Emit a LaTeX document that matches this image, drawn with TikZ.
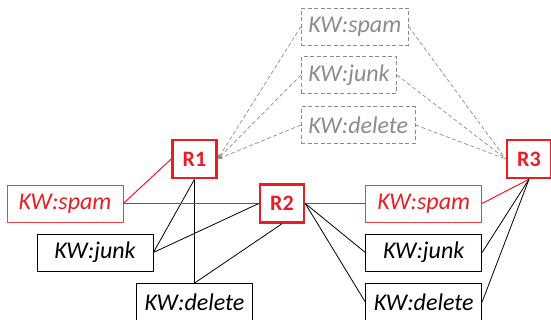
\documentclass[tikz,border=0pt]{standalone}
\usepackage{fontspec}
\setmainfont{Carlito}
\usetikzlibrary{arrows.meta}

\definecolor{rulered}{RGB}{237,28,36}
\definecolor{kwgray}{RGB}{140,140,140}

\begin{document}
\begin{tikzpicture}[x=1pt, y=-1pt,
    kw/.style={draw, line width=0.8pt, inner xsep=7pt, minimum height=37pt,
      font=\fontsize{24}{24}\selectfont\itshape},
    kwbox/.style={kw, minimum width=116pt},
    rule/.style={draw=rulered, line width=2.5pt, minimum width=44pt, minimum height=38pt,
      text=rulered, font=\fontsize{22}{22}\selectfont\bfseries},
    link/.style={line width=0.8pt},
    redlink/.style={line width=1pt, rulered},
    glink/.style={line width=0.7pt, kwgray, dash pattern=on 4pt off 2.5pt}]
    \useasboundingbox (0,0) rectangle (551,320);

    % rules
    \node[rule] (R1) at (194.5,159) {R1};
    \node[rule] (R2) at (282,203.5) {R2};
    \node[rule] (R3) at (529,159) {R3};

    % unused keywords (top)
    \node[kw, draw=kwgray, text=kwgray, dash pattern=on 4pt off 2.5pt, anchor=west] (gspam) at (301,26.5) {KW:spam};
    \node[kw, draw=kwgray, text=kwgray, dash pattern=on 4pt off 2.5pt, anchor=west] (gjunk) at (301,75) {KW:junk};
    \node[kw, draw=kwgray, text=kwgray, dash pattern=on 4pt off 2.5pt, anchor=west] (gdelete) at (301,125) {KW:delete};

    % left keywords
    \node[kwbox, draw=rulered!85, text=rulered] (lspam) at (65,203.5) {KW:spam};
    \node[kwbox] (ljunk) at (95,252.5) {KW:junk};
    \node[kwbox] (ldelete) at (194.5,302) {KW:delete};

    % right keywords
    \node[kwbox, draw=rulered!85, text=rulered] (rspam) at (423.7,203.5) {KW:spam};
    \node[kwbox] (rjunk) at (423.7,252.5) {KW:junk};
    \node[kwbox] (rdelete) at (423.7,302) {KW:delete};

    % R1
    \draw[redlink] (R1.west) -- (lspam.east);
    \draw[link] (R1.south) -- (ljunk.east);
    \draw[link] (R1.south) -- (ldelete.north);
    % R2
    \draw[redlink] (lspam.east) -- (R2.west);
    \draw[link] (R2.west) -- (ljunk.east);
    \draw[link] (R2.south) -- (ldelete.north);
    \draw[redlink] (R2.east) -- (rspam.west);
    \draw[link] (R2.east) -- (rjunk.west);
    \draw[link] (R2.east) -- (rdelete.west);
    % R3
    \draw[redlink] (R3.south) -- (rspam.east);
    \draw[link] (R3.south) -- (rjunk.east);
    \draw[link] (R3.south) -- (rdelete.east);

    % dashed links to the top keywords
    \foreach \k in {gspam, gjunk, gdelete} {
      \draw[glink, -{Stealth[length=5pt, width=4pt]}] (\k.west) -- (R1.east);
      \draw[glink] (\k.east) -- (R3.west);
    }
\end{tikzpicture}
\end{document}
